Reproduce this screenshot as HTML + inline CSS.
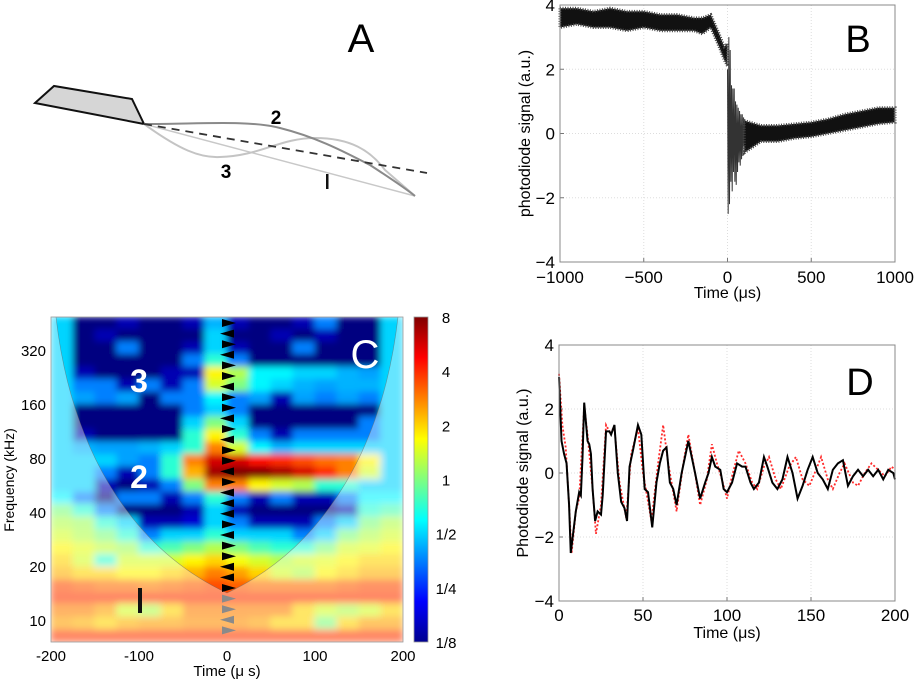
<!DOCTYPE html>
<html><head><meta charset="utf-8">
<style>
html,body{margin:0;padding:0;background:#fff;}
svg{display:block;font-family:"Liberation Sans",Arial,sans-serif;}
</style></head>
<body>
<svg id="fig" width="916" height="687" viewBox="0 0 916 687" xmlns="http://www.w3.org/2000/svg">
<defs>
  <filter id="blur" x="0" y="0" width="1" height="1"><feGaussianBlur stdDeviation="3.5" edgeMode="duplicate"/></filter>
  <clipPath id="hmclip"><rect x="51" y="317" width="352" height="325"/></clipPath>
  <linearGradient id="jetgrad" x1="0" y1="1" x2="0" y2="0">
    <stop offset="0" stop-color="#00008f"/><stop offset="0.125" stop-color="#0000ff"/>
    <stop offset="0.375" stop-color="#00ffff"/><stop offset="0.625" stop-color="#ffff00"/>
    <stop offset="0.875" stop-color="#ff0000"/><stop offset="1" stop-color="#800000"/>
  </linearGradient>
</defs>

<!-- Panel A -->
<g>
  <polygon points="35,103 54,86 132,99 144,124" fill="#d6d6d6" stroke="#111" stroke-width="2"/>
  <path d="M144,124 L415,196" stroke="#c8c8c8" stroke-width="1.5" fill="none"/>
  <path d="M144,124 C180,150 200,158 220,157 C260,156 280,138 315,138 C350,138 370,150 385,170 L415,196" stroke="#c4c4c4" stroke-width="2" fill="none"/>
  <path d="M144,124 C200,124 250,120 280,128 C320,138 350,155 370,165 C390,178 405,188 415,196" stroke="#8a8a8a" stroke-width="2" fill="none"/>
  <line x1="144" y1="124" x2="427" y2="173" stroke="#333" stroke-width="1.8" stroke-dasharray="8,6"/>
  <text x="276" y="124" font-size="19" font-weight="bold" text-anchor="middle">2</text>
  <text x="226" y="178" font-size="19" font-weight="bold" text-anchor="middle">3</text>
  <rect x="326" y="174" width="2.5" height="15" fill="#111"/>
  <text x="361" y="52" font-size="40" text-anchor="middle">A</text>
</g>

<g id="panelB"></g>
<g id="panelC"></g>
<g id="panelD"></g>
</svg>

<script>
const NS="http://www.w3.org/2000/svg";
function mk(tag,attrs,parent){const e=document.createElementNS(NS,tag);for(const k in attrs)e.setAttribute(k,attrs[k]);parent.appendChild(e);return e;}

// ---------- Panel B data ----------
const bPreTimes=[-1000,-900,-800,-700,-600,-500,-400,-300,-200,-150,-100,-50,-20,0];
const bPreUpper=[3.9,3.9,3.8,3.9,3.8,3.8,3.7,3.7,3.6,3.6,3.7,3.1,2.7,2.8];
const bPreLower=[3.3,3.4,3.3,3.3,3.2,3.3,3.2,3.2,3.2,3.1,3.3,2.7,2.3,2.1];
const bRingTimes=[0,4,8,12,16,20,24,28,32,36,40,44,48,52,56,60,64,68,72,76,80,84,88,92,96,100];
const bRingValues=[2.0,-2.5,3.0,-2.2,2.6,-1.5,1.5,-1.8,1.4,-1.2,1.4,-1.5,1.0,-1.6,0.9,-1.2,0.8,-0.9,0.7,-1.0,0.6,-0.8,0.6,-0.7,0.5,-0.4];
const bPostTimes=[100,200,300,400,500,600,700,800,900,1000];
const bPostUpper=[0.4,0.25,0.25,0.3,0.35,0.45,0.6,0.7,0.8,0.8];
const bPostLower=[-0.6,-0.25,-0.25,-0.15,-0.1,0,0.1,0.2,0.3,0.35];
const bXTicks=[-1000,-500,0,500,1000];
const bYTicks=[-4,-2,0,2,4];

// ---------- Panel D data ----------
const dBlackTimes=[0,1.5,3,4.5,6,7,10,12,13,14,15,17,18,19,20,21.5,23,25,26,28,30,31,33,35,37,39,40.5,42,44,47,49,51,53,55.5,58,60,62,64,66,68,70,73,75,77,79,81,84,87,89,91,93,96,98,100,103,106,109,111,114,116,119,122,124,127,130,133,136,139,142,145,148,151,154,157,160,163,166,169,172,175,178,181,184,187,190,193,196,199,200];
const dBlackValues=[3.0,1.0,0.6,0.3,-1,-2.5,-1.2,-0.6,-0.7,0.5,2.2,1,0.9,0.6,-0.5,-1.5,-1.2,-1.3,-0.7,1.3,1.3,1.2,1.5,0,-0.9,-1.1,-1.5,0.2,0.7,1.5,1.2,-0.5,-0.6,-1.7,-0.3,0.3,0.7,0.8,-0.3,-0.5,-1.0,0.0,0.5,1.0,0.5,0,-0.8,-0.3,0,0.5,0.2,0.1,-0.5,-0.6,-0.3,0.3,0.2,0.2,-0.3,-0.5,-0.3,0.5,0.2,-0.3,-0.5,-0.2,0.5,0,-0.8,-0.4,0.1,0.5,0,-0.2,-0.5,0.1,0.3,0.4,-0.4,-0.1,0.1,-0.1,0.1,-0.1,0.1,-0.2,0.1,0.0,-0.2];
const dRedTimes=[0,2,4,6,7.5,10,12,15,17,20,22,25,28,30,33,36,40,43,47,50,55,59,62,65,70,74,77,80,84,88,91,94,97,100,103,107,111,115,118,122,125,129,132,137,141,145,149,153,156,160,163,167,170,175,178,182,186,190,194,198,200];
const dRedValues=[3.1,1.5,0.8,-1,-2.5,-1.2,-0.8,2.1,1.2,-0.5,-1.9,-1,1.5,1.3,1.4,-0.3,-1.4,0.6,1.4,0,-1.5,0.3,1.5,0.3,-1.2,0.3,1.2,0.3,-1.0,-0.2,0.9,0.3,-0.2,-0.8,-0.1,0.7,0.3,-0.3,-0.5,0.2,0.5,-0.2,-0.5,0.2,0.5,-0.2,-0.4,0.1,0.5,-0.2,-0.5,0,0.3,-0.3,-0.4,0,0.3,0.1,-0.1,0.2,0.1];
const dXTicks=[0,50,100,150,200];
const dYTicks=[-4,-2,0,2,4];

// ---------- Panel C data (log2 power, rows top->bottom, cols left->right) ----------
const cTimeTicks=[-200,-100,0,100,200];
const cFreqTicks=[10,20,40,80,160,320];
const cColorTicks=["1/8","1/4","1/2","1","2","4","8"];
const cArrowDirs=[1,-1,1,-1,1,1,-1,1,1,-1,1,-1,1,1,-1,1,-1,-1,-1,1,-1,1,1,-1,-1,1,1,1,-1,1];
const cPower=[
[-1,-3,-3,-2.7,-3,-3,-2.7,-1.2,-2.7,-3,-3,-2.7,-1.5,-3,-3,-1],
[-1,-3,-2.7,-3,-3,-3,-3,-1,-3,-3,-2.7,-3,-2.7,-3,-3,-1],
[-1,-3,-3,-1.5,-3,-3,-2.7,-1,-2.7,-3,-3,-1.5,-3,-3,-3,-1],
[-1,-3,-3,-3,-3,-3,-1.5,-0.5,-1.5,-3,-3,-3,-3,-3,-3,-1],
[-1,-2.7,-3,-3,-3,-2.7,-2.7,0.8,0.3,-0.8,-0.8,-1,-1,-1.2,-1.3,-1],
[-1,-1.5,-1.5,-2.7,-1.5,-2.7,-1.5,0.5,0,-0.8,-1,-1.2,-1.3,-1.2,-1.2,-1],
[-1,-1.3,-1.5,-1.3,-3,-1.5,-1.5,-0.8,-1.5,-1.3,-2.7,-1.3,-1.5,-1.3,-1.5,-1],
[-1,-3,-3,-3,-3,-3,-1.5,-1,-1.5,-3,-3,-3,-3,-3,-3,-1],
[-1,-3,-3,-3,-3,-3,-1,0,-1,-3,-3,-3,-3,-3,-1.5,-1],
[-1,-2.7,-3,-3,-3,-3,-0.5,0.8,-0.5,-1.5,-2.7,-1.5,-1.5,-1.5,-1.5,-1],
[-1,-1.2,-1.3,-1.3,-1.2,-1,-0.5,1.5,0.5,-0.8,-1.2,-1,-1,-1,-1,-1],
[-1,-1,-1,-1.3,-1.5,-0.5,1.5,2.5,2.5,2.2,2,1.8,1.6,1.5,0.8,-1],
[-1,-1,-1.5,-2.7,-1.5,-0.5,1.2,2.8,3,3,2.8,2.5,2,1.5,0.5,-1],
[-1,-1,-2.7,-3,-2.7,-1.5,0,1.5,1.5,0.8,0.5,0.3,-0.5,-0.5,-1,-1],
[-0.8,-1.5,-3,-1.5,-1.5,-2.7,-1.5,-0.5,-1.5,-2.7,-1.5,-2.7,-2.7,-1.5,-0.8,-0.8],
[0,-0.5,-1.5,-3,-3,-3,-2.7,-1,-2.7,-3,-3,-3,-3,-2.7,-0.5,-0.3],
[0.3,0.2,-0.5,-1,-2.7,-2.7,-2.5,-1,-1.5,-2.7,-2.7,-2.7,-1.5,-1,0,0.3],
[0.5,0.3,0,-0.5,-1.5,-1,-1,-0.5,-1,-1,-1,-1.5,-1,0,0.3,0.5],
[0.8,0.6,0.4,0.2,-0.5,-0.3,0,0.3,0,-0.3,-0.5,-0.5,0,0.5,0.6,0.8],
[1,0.5,-0.5,0.5,0.5,0.5,0.8,1,0.7,0.5,0.3,0.5,0.6,0.8,1,1],
[1.2,1,1,0.8,0.8,1,1.2,1.5,1.3,1,0.5,0.3,0.8,1,1.2,1.2],
[1.8,1.7,1.6,1.6,1.5,1.6,1.7,1.8,1.7,1.6,1.6,1.6,1.6,1.7,1.8,1.8],
[1.9,1.9,1.9,1.9,1.9,1.9,1.9,1.9,1.9,1.9,1.9,1.9,1.9,1.9,1.9,1.9],
[1.5,1.5,1.3,0.5,0.3,1,1.5,1.5,1.5,1.5,1.5,1,0.5,0.3,0.5,1],
[1.3,1.2,1,1.2,1.3,1.3,1.4,1.4,1.4,1.3,1,1,0,1,1.3,1.3],
[1.9,1.9,1.9,1.9,1.9,1.9,1.9,1.9,1.9,1.9,1.9,1.9,1.9,1.9,1.9,1.9]
];

function jet(v){
  let t=(v+3)/6; t=Math.max(0,Math.min(1,t));
  const c=x=>Math.round(255*Math.max(0,Math.min(1,1.5-Math.abs(4*t-x))));
  return `rgb(${c(3)},${c(2)},${c(1)})`;
}
function line(parent,x1,y1,x2,y2,st,name){const e=mk('line',{x1,y1,x2,y2,stroke:st.c||'#888','stroke-width':st.w||1},parent);if(st.d)e.setAttribute('stroke-dasharray',st.d);


return e;}
function txt(parent,x,y,s,size,anchor,name,extra){const e=mk('text',{x,y,'font-size':size,'text-anchor':anchor||'middle'},parent);e.textContent=s;if(extra)for(const k in extra)e.setAttribute(k,extra[k]);


return e;}
function fmt(v){return v<0?'\u2212'+Math.abs(v):String(v);}

// ---------- Panel B ----------
(function(){
  const g=document.getElementById('panelB');
  const L=560,R=895,T=5,B=262;
  const x=t=>L+(t+1000)/2000*(R-L), y=v=>T+(4-v)/8*(B-T);
  bXTicks.forEach(t=>{ if(t>-1000&&t<1000) line(g,x(t),T,x(t),B,{c:'#ddd',d:'1,2'},'b-grid-x');
    line(g,x(t),B,x(t),B-4,{c:'#777'},'b-x-tick');
    txt(g,x(t),B+21,fmt(t),17,'middle','b-x-tick-label');});
  bYTicks.forEach(v=>{ if(v>-4&&v<4) line(g,L,y(v),R,y(v),{c:'#ddd',d:'1,2'},'b-grid-y');
    line(g,L,y(v),L+4,y(v),{c:'#777'},'b-y-tick');
    txt(g,L-5,y(v)+6,fmt(v),17,'end','b-y-tick-label');});
  const pre=mk('polygon',{points:bPreTimes.map((t,i)=>x(t)+','+y(bPreUpper[i])).concat(bPreTimes.map((t,i)=>x(t)+','+y(bPreLower[i])).reverse()).join(' '),fill:'#111',stroke:'#444','stroke-width':3,'stroke-dasharray':'1,1.5'},g);
  
  
  const ring=mk('polyline',{points:bRingTimes.map((t,i)=>x(t)+','+y(bRingValues[i])).join(' '),fill:'none',stroke:'#333','stroke-width':1},g);
  
  
  const post=mk('polygon',{points:bPostTimes.map((t,i)=>x(t)+','+y(bPostUpper[i])).concat(bPostTimes.map((t,i)=>x(t)+','+y(bPostLower[i])).reverse()).join(' '),fill:'#111',stroke:'#444','stroke-width':3,'stroke-dasharray':'1,1.5'},g);
  
  
  const fr=mk('rect',{x:L,y:T,width:R-L,height:B-T,fill:'none',stroke:'#888','stroke-width':1},g);
  
  
  txt(g,(L+R)/2,B+36,'Time (\u03bcs)',16,'middle','b-x-axis-title');
  txt(g,0,0,'photodiode signal (a.u.)',16,'middle','b-y-axis-title',{transform:`translate(530,${(T+B)/2}) rotate(-90)`});
  txt(g,858,52,'B',38,'middle','panel-b-label');
})();

// ---------- Panel D ----------
(function(){
  const g=document.getElementById('panelD');
  const L=559,R=895,T=345,B=601;
  const x=t=>L+t/200*(R-L), y=v=>T+(4-v)/8*(B-T);
  dXTicks.forEach(t=>{ if(t>0&&t<200) line(g,x(t),T,x(t),B,{c:'#ddd',d:'1,2'},'d-grid-x');
    line(g,x(t),B,x(t),B-4,{c:'#777'},'d-x-tick');
    txt(g,x(t),B+20,fmt(t),17,'middle','d-x-tick-label');});
  dYTicks.forEach(v=>{ if(v>-4&&v<4) line(g,L,y(v),R,y(v),{c:'#ddd',d:'1,2'},'d-grid-y');
    line(g,L,y(v),L+4,y(v),{c:'#777'},'d-y-tick');
    txt(g,L-5,y(v)+6,fmt(v),17,'end','d-y-tick-label');});
  const red=mk('polyline',{points:dRedTimes.map((t,i)=>x(t)+','+y(dRedValues[i])).join(' '),fill:'none',stroke:'#ff2a2a','stroke-width':1.8,'stroke-dasharray':'2,2'},g);
  
  
  const blk=mk('polyline',{points:dBlackTimes.map((t,i)=>x(t)+','+y(dBlackValues[i])).join(' '),fill:'none',stroke:'#000','stroke-width':2},g);
  
  
  const fr=mk('rect',{x:L,y:T,width:R-L,height:B-T,fill:'none',stroke:'#888','stroke-width':1},g);
  
  
  txt(g,(L+R)/2,B+37,'Time (\u03bcs)',16,'middle','d-x-axis-title');
  txt(g,0,0,'Photodiode signal (a.u.)',16,'middle','d-y-axis-title',{transform:`translate(528,${(T+B)/2}) rotate(-90)`});
  txt(g,860,395,'D',38,'middle','panel-d-label');
})();

// ---------- Panel C ----------
(function(){
  const g=document.getElementById('panelC');
  const L=51,R=403,T=317,B=642;
  const x=t=>L+(t+200)/400*(R-L);
  const fy=f=>620-Math.log2(f/10)*54;
  const nr=cPower.length,nc=cPower[0].length;
  const cw=(R-L)/nc,ch=(B-T)/nr;
  const clipG=mk('g',{'clip-path':'url(#hmclip)'},g);
  
  
  const hm=mk('g',{filter:'url(#blur)'},clipG);
  cPower.forEach((row,i)=>row.forEach((v,j)=>{
    const r=mk('rect',{x:L+j*cw-0.5,y:T+i*ch-0.5,width:cw+1,height:ch+1,fill:jet(v)},hm);
    
    
  }));
  const cone='M56,317 C70,440 125,545 227,593 C329,545 384,440 398,317 Z';
  const ov=mk('path',{d:`M${L},${T} H${R} V${B} H${L} Z `+cone,'fill-rule':'evenodd',fill:'#fff','fill-opacity':0.4},clipG);
  
  
  const co=mk('path',{d:cone,fill:'none',stroke:'#666','stroke-width':0.6,'stroke-opacity':0.6},clipG);
  
  
  cArrowDirs.forEach((d,i)=>{
    const yy=T+6+i*10.6; const gray=yy>594;
    const p=mk('polygon',{points:d>0?`${222},${yy-4} ${236},${yy} ${222},${yy+4}`:`${234},${yy-4} ${220},${yy} ${234},${yy+4}`,fill:gray?'#8a8a8a':'#000'},clipG);
    
    
  });
  const fr=mk('rect',{x:L,y:T,width:R-L,height:B-T,fill:'none',stroke:'#999','stroke-width':0.8},g);
  
  
  cTimeTicks.forEach(t=>txt(g,x(t),B+19,String(t),15,'middle','c-x-tick-label'));
  cFreqTicks.forEach(f=>txt(g,46,fy(f)+6,String(f),15,'end','c-y-tick-label'));
  txt(g,227,B+34,'Time (\u03bc s)',15,'middle','c-x-axis-title');
  txt(g,0,0,'Frequency (kHz)',14,'middle','c-y-axis-title',{transform:'translate(14,480) rotate(-90)'});
  txt(g,139,392,'3',32,'middle','c-mode-3-label',{fill:'#fff','font-weight':'bold'});
  txt(g,139,488,'2',32,'middle','c-mode-2-label',{fill:'#fff','font-weight':'bold'});
  txt(g,365,368,'C',40,'middle','panel-c-label',{fill:'#fff'});
  const m1=mk('rect',{x:138,y:588,width:4,height:25,fill:'#111'},g);
  
  
  const cb=mk('rect',{x:414,y:T,width:14,height:B-T,fill:'url(#jetgrad)',stroke:'#999','stroke-width':0.8},g);
  
  
  cColorTicks.forEach((s,i)=>txt(g,446,B-i*(B-T)/6+6,s,15,'middle','c-colorbar-tick-label'));
})();
</script>
</body></html>
